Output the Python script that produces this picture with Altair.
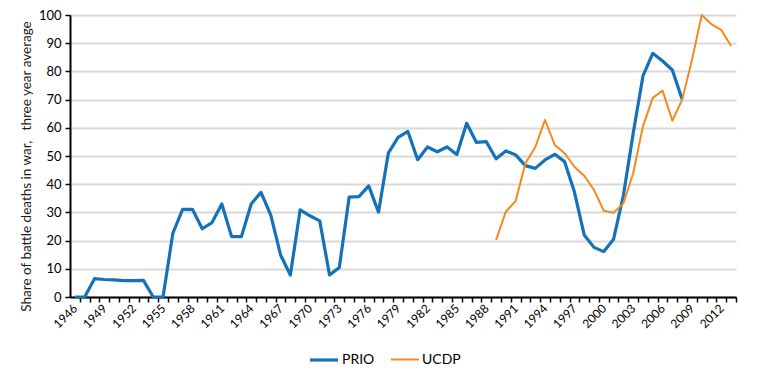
import altair as alt
import pandas as pd

years = list(range(1946, 2014))
prio = [0, 0, 6.5, 6.2, 6.1, 5.8, 5.8, 5.9, 0, 0,
        22.6, 31.1, 31.1, 24.2, 26.4, 33, 21.4, 21.4, 33, 37.1,
        29, 14.9, 7.8, 30.9, 28.8, 27, 7.8, 10.5, 35.4, 35.6,
        39.4, 30.1, 51, 56.6, 58.7, 48.7, 53.2, 51.5, 53.2, 50.5,
        61.6, 54.8, 55.1, 49, 51.8, 50.4, 46.6, 45.6, 48.6, 50.6,
        48, 37.3, 22, 17.6, 16.1, 20.5, 36, 58, 78.4, 86.4,
        83.7, 80.5, 70.1] + [None] * 5
ucdp = [None] * 43 + [20.2, 30.3, 34, 47.4, 53.1, 62.8, 53.9, 51, 46.2, 43,
                      38, 30.6, 29.9, 33.2, 43.9, 60.5, 70.6, 73.2, 62.5, 69.9,
                      84, 100, 96.7, 94.7, 89]
series_names = ["PRIO", "UCDP"]
series_colors = ["#1572b8", "#f28a1e"]
series_widths = [3.2, 2]
y_title = "Share of battle deaths in war,\u00a0\u00a0\u00a0three year average"

rows = []
for i, yr in enumerate(years):
    rows.append({"year": yr, "series": "PRIO", "value": prio[i]})
    rows.append({"year": yr, "series": "UCDP", "value": ucdp[i]})
df = pd.DataFrame(rows)

W, H = 666, 282
n = len(years)
half = W / n / 2

font = "Lato"

legend = alt.Legend(title=None, orient="none", legendX=238, legendY=329,
                    direction="horizontal",
                    symbolType="stroke", symbolSize=784,
                    labelFont=font, labelFontSize=14, labelColor="#000000",
                    columnPadding=12, labelOffset=2)

chart = alt.Chart(df).mark_line(strokeJoin="round").encode(
    x=alt.X("year:Q",
            scale=alt.Scale(domain=[years[0] - 0.5, years[-1] + 0.5], nice=False, zero=False),
            axis=alt.Axis(values=years, title=None, grid=False,
                          labelExpr="(datum.value - 1946) % 3 == 0 ? datum.value : ''",
                          labelAngle=-45, labelAlign="right", labelBaseline="middle",
                          tickOffset=half, labelOffset=-half,
                          labelPadding=4, tickSize=5, tickWidth=1.5, tickColor="#000000",
                          domainColor="#000000", domainWidth=2,
                          labelFont=font, labelFontSize=12, labelColor="#000000",
                          labelOverlap=False)),
    y=alt.Y("value:Q",
            scale=alt.Scale(domain=[0, 100], nice=False),
            axis=alt.Axis(values=list(range(0, 101, 10)), title=y_title,
                          grid=True, gridColor="#d9d9d9", gridWidth=2,
                          tickSize=5, tickWidth=1.5, tickColor="#000000",
                          domainColor="#000000", domainWidth=2,
                          labelFont=font, labelFontSize=13, labelColor="#000000",
                          labelPadding=4,
                          titleFont=font, titleFontSize=13.5, titleFontWeight="normal",
                          titleColor="#1a1a1a", titlePadding=5, titleY=151)),
    color=alt.Color("series:N",
                    scale=alt.Scale(domain=series_names, range=series_colors),
                    legend=legend),
    strokeWidth=alt.StrokeWidth("series:N",
                                scale=alt.Scale(domain=series_names, range=series_widths),
                                legend=legend),
).properties(
    width=W, height=H,
    autosize=alt.AutoSizeParams(type="none"),
    padding={"left": 62, "top": 7, "right": 13, "bottom": 80},
).configure_view(stroke=None)

chart.save("out.html", embed_options={"renderer": "svg", "actions": False})
